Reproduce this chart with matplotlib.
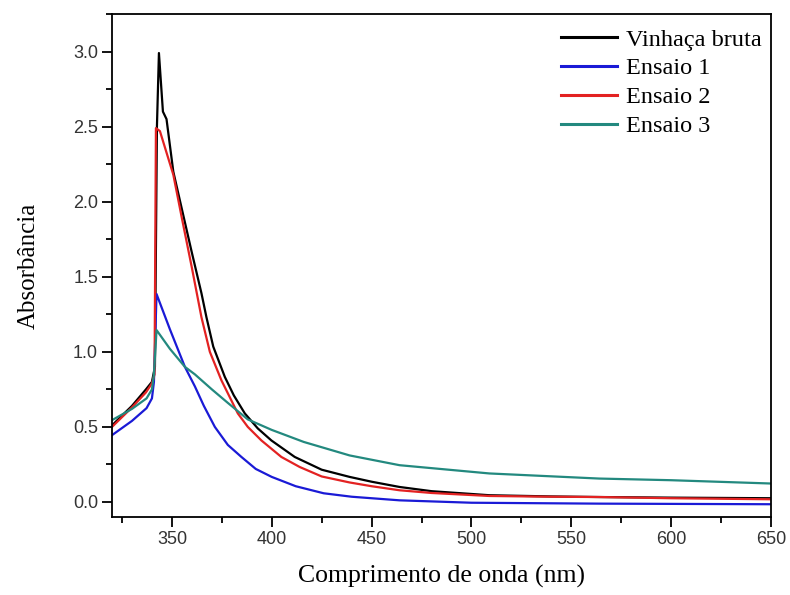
import matplotlib
matplotlib.use("Agg")
import matplotlib.pyplot as plt
from matplotlib.ticker import MultipleLocator

# Vinhaça bruta (black)
wl_bruta = [320, 330, 337, 340, 341.5, 342.5, 343.5, 345.5, 347.3, 350.7, 355, 360, 364.8, 367.3,
            370.7, 376.5, 381, 386.5, 393, 399.8, 411.5, 425, 439, 450, 464, 480, 509, 540, 564, 600, 650]
abs_bruta = [0.51, 0.64, 0.75, 0.80, 0.90, 2.50, 2.99, 2.60, 2.55, 2.20, 1.95, 1.66, 1.39, 1.23,
             1.035, 0.833, 0.71, 0.59, 0.49, 0.41, 0.30, 0.215, 0.167, 0.135, 0.10, 0.072, 0.045, 0.037, 0.033, 0.029, 0.025]

# Ensaio 1 (blue)
wl_e1 = [320, 330, 337.3, 340, 341, 342.3, 349, 356.5, 361.5, 366, 371.5, 378, 384.8, 392, 400, 412,
         426, 440, 464, 500, 564, 650]
abs_e1 = [0.445, 0.54, 0.625, 0.69, 0.80, 1.385, 1.15, 0.90, 0.77, 0.64, 0.50, 0.38, 0.30, 0.22, 0.167, 0.105,
          0.058, 0.035, 0.011, -0.005, -0.011, -0.015]

# Ensaio 2 (red)
wl_e2 = [320, 330, 337, 340, 341.3, 342, 344, 347, 350.7, 355, 360, 364.8, 369, 374.8, 383,
         388, 394.8, 404.8, 414, 425, 439, 450, 464, 480, 509, 540, 564, 600, 650]
abs_e2 = [0.50, 0.63, 0.73, 0.79, 0.85, 2.49, 2.47, 2.34, 2.18, 1.89, 1.56, 1.23, 1.00, 0.81, 0.59,
          0.50, 0.41, 0.30, 0.233, 0.17, 0.13, 0.105, 0.078, 0.06, 0.04, 0.035, 0.033, 0.025, 0.018]

# Ensaio 3 (teal)
wl_e3 = [320, 330, 337.3, 340, 341, 342.3, 349, 356.5, 361.5, 370, 378, 388, 400, 416, 439,
         464, 509, 564, 600, 650]
abs_e3 = [0.545, 0.62, 0.69, 0.75, 0.85, 1.145, 1.02, 0.90, 0.85, 0.75, 0.66, 0.55, 0.48, 0.40, 0.31,
          0.245, 0.19, 0.156, 0.145, 0.123]

labels = ["Vinhaça bruta", "Ensaio 1", "Ensaio 2", "Ensaio 3"]
colors = ["#000000", "#1a1ad6", "#e32222", "#23897f"]

fig = plt.figure(figsize=(7.9, 5.95), dpi=100)
ax = fig.add_axes([112 / 790, 78 / 595, (771 - 112) / 790, (517 - 14) / 595])

series = [(wl_bruta, abs_bruta), (wl_e1, abs_e1), (wl_e2, abs_e2), (wl_e3, abs_e3)]
for (x, y), lab, c in zip(series, labels, colors):
    ax.plot(x, y, color=c, lw=1.6, label=lab)

ax.set_xlim(320, 650)
ax.set_ylim(-0.1, 3.25)
ax.xaxis.set_major_locator(MultipleLocator(50))
ax.xaxis.set_minor_locator(MultipleLocator(25))
ax.yaxis.set_major_locator(MultipleLocator(0.5))
ax.yaxis.set_minor_locator(MultipleLocator(0.25))
ax.yaxis.set_major_formatter(plt.FuncFormatter(lambda v, p: f"{v:.1f}"))

for s in ax.spines.values():
    s.set_linewidth(1.3)
ax.tick_params(which="major", direction="out", length=7, width=1.3, pad=3,
               labelsize=13, top=False, right=False)
ax.tick_params(which="minor", direction="out", length=4, width=1.3, top=False, right=False)
for t in ax.get_xticklabels() + ax.get_yticklabels():
    t.set_fontfamily("Liberation Sans")
    t.set_color("#333333")

ax.set_xlabel("Comprimento de onda (nm)", fontfamily="Liberation Serif", fontsize=18.5, labelpad=12)
ax.set_ylabel("Absorbância", fontfamily="Liberation Serif", fontsize=18, labelpad=24)

leg = ax.legend(loc="upper right", bbox_to_anchor=(1.008, 1.0), frameon=False,
                prop={"family": "Liberation Serif", "size": 17.5},
                handlelength=2.3, handletextpad=0.37, labelspacing=0.28,
                borderaxespad=0.2)
for h in leg.get_lines():
    h.set_linewidth(2.2)

fig.savefig("out.png", dpi=100)
